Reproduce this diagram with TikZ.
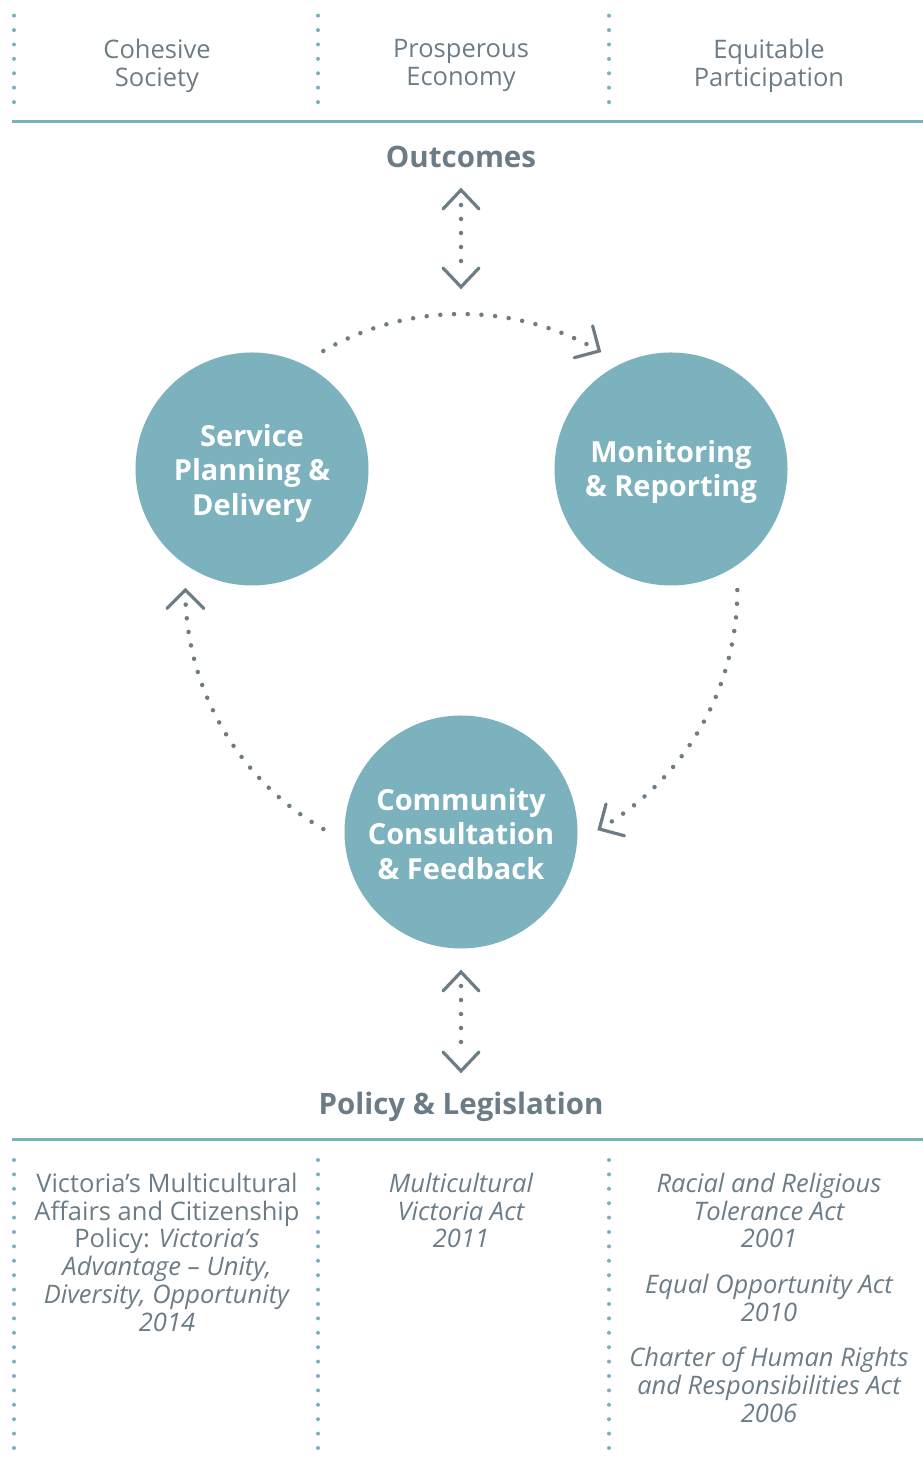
\documentclass[tikz,border=0pt]{standalone}
\usepackage{fontspec}
\setmainfont{Open Sans}
\usetikzlibrary{calc}
\definecolor{txt}{HTML}{6C7C87}
\definecolor{tealfill}{HTML}{7BB2BE}
\definecolor{arr}{HTML}{6E7C86}
\definecolor{divc}{HTML}{79B1BC}
\begin{document}
\begin{tikzpicture}[x=1pt,y=1pt,
 lbl/.style={text=txt, font=\fontsize{25.5}{27.7}\selectfont, align=center, inner sep=0pt, anchor=north},
 ilbl/.style={lbl, font=\fontsize{25.5}{27.7}\selectfont\itshape},
 head/.style={text=txt, font=\fontsize{29.5}{34}\selectfont\bfseries, inner sep=0pt},
 stage/.style={circle, fill=tealfill, minimum size=233pt, inner sep=0pt},
 stagetext/.style={text=white, font=\fontsize{29}{34.5}\selectfont\bfseries, align=center, inner sep=0pt},
 divider/.style={divc, line width=4pt, line cap=round, dash pattern=on 0pt off 14.4pt},
 rulebar/.style={divc, line width=3pt},
 dotline/.style={arr, line width=4.5pt, line cap=round, dash pattern=on 0pt off 14pt},
 arcdots/.style={arr, line width=4.5pt, line cap=round, dash pattern=on 0pt off 13.72pt},
 chev/.style={arr, line width=3.2pt, line cap=round, line join=miter},
]
\useasboundingbox (0,0) rectangle (923,1459);
% dividers and rules
\foreach \xx in {14,318,609} {
  \draw[divider] (\xx,1443.3) -- (\xx,1356);
  \draw[divider] (\xx,299) -- (\xx,-5);
}
\draw[rulebar] (12,1337) -- (923,1337);
\draw[rulebar] (12,319) -- (923,319);
% top labels
\node[lbl] (t1) at (157,1420) {Cohesive\\Society};
\node[lbl] (t2) at (461,1420) {Prosperous\\Economy};
\node[lbl] (t3) at (769,1420) {Equitable\\Participation};
\node[head] (out) at (461,1302) {Outcomes};
\node[head] (pol) at (461,352) {Policy \& Legislation};
% stages
\node[stage] (sp) at (252,990) {};
\node[stage] (mr) at (671,990) {};
\node[stage] (cc) at (461,627) {};
\node[stagetext] (spt) at ([yshift=-4]sp.center) {Service\\Planning \&\\Delivery};
\node[stagetext] (mrt) at ([yshift=-3]mr.center) {Monitoring\\\& Reporting};
\node[stagetext] (cct) at ([yshift=-2]cc.center) {Community\\Consultation\\\& Feedback};
\coordinate (C) at (barycentric cs:sp=1,mr=1,cc=1);
% cycle arcs
\draw[arcdots] ($(C)+(120:276)$) arc[start angle=120, end angle=63, radius=276pt];
\draw[chev] ($(C)+(60:276)+(105:26)$) -- ($(C)+(60:276)$) -- ($(C)+(60:276)+(195:26)$);
\draw[arcdots] ($(C)+(0:276)$) arc[start angle=0, end angle=-57, radius=276pt];
\draw[chev] ($(C)+(-60:276)+(75:26)$) -- ($(C)+(-60:276)$) -- ($(C)+(-60:276)+(-15:26)$);
\draw[arcdots] ($(C)+(240:276)$) arc[start angle=240, end angle=183, radius=276pt];
\draw[chev] ($(C)+(180:276)+(-45:26)$) -- ($(C)+(180:276)$) -- ($(C)+(180:276)+(-135:26)$);
% vertical double arrows
\coordinate (oa) at (461,1269);
\coordinate (ob) at (461,1172);
\draw[dotline] ($(oa)+(0,-15)$) -- ($(ob)+(0,25.5)$);
\draw[chev] ($(oa)+(-18,-19)$) -- (oa) -- ($(oa)+(18,-19)$);
\draw[chev] ($(ob)+(-18,19)$) -- (ob) -- ($(ob)+(18,19)$);
\coordinate (pa) at (461,487);
\coordinate (pb) at (461,388);
\draw[dotline] ($(pa)+(0,-14)$) -- ($(pb)+(0,28.5)$);
\draw[chev] ($(pa)+(-18,-19)$) -- (pa) -- ($(pa)+(18,-19)$);
\draw[chev] ($(pb)+(-18,19)$) -- (pb) -- ($(pb)+(18,19)$);
% bottom texts
\node[lbl] (b1) at (167,286) {Victoria’s Multicultural\\Affairs and Citizenship\\Policy: \textit{Victoria’s}\\\textit{Advantage – Unity,}\\\textit{Diversity, Opportunity}\\\textit{2014}};
\node[ilbl] (b2) at (461,286) {Multicultural\\Victoria Act\\2011};
\node[ilbl] (b3) at (769,286) {Racial and Religious\\Tolerance Act\\2001};
\node[ilbl] (b4) at (769,185) {Equal Opportunity Act\\2010};
\node[ilbl] (b5) at (769,112) {Charter of Human Rights\\and Responsibilities Act\\2006};
\end{tikzpicture}
\end{document}
